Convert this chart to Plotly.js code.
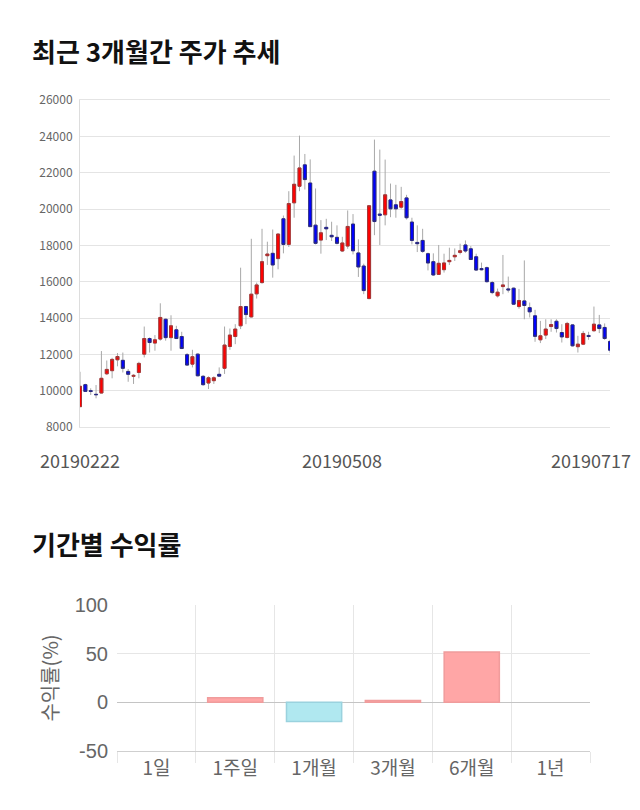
<!DOCTYPE html>
<html>
<head>
<meta charset="utf-8">
<script src="https://cdn.plot.ly/plotly-3.0.1.min.js"></script>
<style>
  html, body { margin: 0; padding: 0; background: #ffffff; }
  #chart { width: 640px; height: 810px; }
</style>
</head>
<body>
<div id="chart"></div>
<script>
// ---- Daily prices (trading days 2019-02-22 .. 2019-07-17) ----
const dates = [
  '20190222','20190225','20190226','20190227','20190228',
  '20190304','20190305','20190306','20190307','20190308',
  '20190311','20190312','20190313','20190314','20190315',
  '20190318','20190319','20190320','20190321','20190322',
  '20190325','20190326','20190327','20190328','20190329',
  '20190401','20190402','20190403','20190404','20190405',
  '20190408','20190409','20190410','20190411','20190412',
  '20190415','20190416','20190417','20190418','20190419',
  '20190422','20190423','20190424','20190425','20190426',
  '20190429','20190430',
  '20190502','20190503','20190507','20190508','20190509','20190510',
  '20190513','20190514','20190515','20190516','20190517',
  '20190520','20190521','20190522','20190523','20190524',
  '20190527','20190528','20190529','20190530','20190531',
  '20190603','20190604','20190605','20190607',
  '20190610','20190611','20190612','20190613','20190614',
  '20190617','20190618','20190619','20190620','20190621',
  '20190624','20190625','20190626','20190627','20190628',
  '20190701','20190702','20190703','20190704','20190705',
  '20190708','20190709','20190710','20190711','20190712',
  '20190715','20190716','20190717'
];
const openP = [
  9120,10330,10000,9800,9870,10930,11100,11700,11670,11060,
  10790,11000,12010,12870,12620,12840,13930,12920,13350,12980,
  11980,11460,12010,10790,10420,10550,10900,11230,12430,12980,
  13570,14630,14060,15330,15950,17430,17560,17270,19460,18050,
  20340,21250,22430,21430,19110,18290,18990,18550,18440,17690,
  17960,19170,17580,16860,15070,22080,19720,19680,20500,20230,
  20100,20610,19280,18160,18270,17540,17100,16400,16660,17100,
  17370,17610,18020,17810,17370,16720,16770,15950,15220,15730,
  15600,15640,14630,14940,14570,14120,12800,13060,13530,13820,
  13200,12930,13620,12420,12560,13040,13300,13620,13480,12710
];
const highP = [
  11040,10380,10130,10310,12180,11660,11810,12070,12100,11190,
  10910,11590,13530,12930,13060,14810,13970,14150,13570,13240,
  12070,12250,12050,10860,10790,10790,11280,13530,13420,13660,
  16770,14670,18360,15950,18910,18200,18870,18660,19640,20980,
  22940,24040,23030,22730,21130,19390,19460,19300,19100,18470,
  19920,19720,18330,16990,20210,23820,23270,22720,21400,21330,
  21220,20780,19520,19100,18910,17600,17560,18020,17540,17870,
  17830,18090,18270,17960,17540,17050,16830,16040,15620,17470,
  16280,15680,15600,17170,14850,14450,13840,13930,13930,13930,
  13660,13790,13660,13020,13290,13240,14630,14170,13700,12800
];
const lowP = [
  9100,9950,9760,9580,9850,10860,10680,11340,11000,10490,
  10370,10680,11830,12100,12200,12750,12750,12200,12840,12290,
  11370,11280,10790,10270,10090,10370,10790,10920,12250,12560,
  13390,13660,14030,15070,15890,16920,16220,16680,17560,17910,
  19520,20980,21070,19030,18050,17540,18290,18240,18050,17630,
  17810,17500,16260,15310,15030,18560,18020,19100,19550,19520,
  20010,19420,18050,17630,17590,16620,16310,16370,16500,16920,
  17140,17500,17590,17190,16590,16620,15950,15310,15130,15310,
  15400,14720,14510,13930,14030,12690,12620,12840,13240,13200,
  12650,12870,12430,12100,12510,12800,13240,13170,12800,12090
];
const closeP = [
  10240,9960,9960,9780,10680,11170,11720,11880,11230,10900,
  10840,11500,12870,12650,12800,14030,12920,13570,12870,12320,
  11410,11870,10820,10330,10710,10710,10800,12510,13060,13390,
  14630,14190,15310,15820,17100,17520,16920,18620,18050,20300,
  21360,22260,21620,19030,18110,18690,18910,18470,18110,18130,
  19040,17700,16810,15510,20180,19310,19660,20780,20010,20010,
  20410,19520,18270,18090,17670,17030,16370,17010,17030,17170,
  17450,17700,17690,17220,16640,16660,16000,15400,15420,15820,
  15550,14760,14960,14690,14340,12990,13020,13390,13640,13420,
  12960,13700,12470,12560,13150,12980,13660,13420,12870,12230
];
const priceTickLabels = ['20190222', '20190508', '20190717'];

// ---- Period returns (%) ----
const periods = ['1일', '1주일', '1개월', '3개월', '6개월', '1년'];
const returns = [null, 4.8, -19.8, 2.0, 51.8, null];
const returnTickVals = [-50, 0, 50, 100];
const returnTickText = ['-50', '0', '50', '100'];

// ---- Derived body-only series (coloured bodies drawn over gray wicks) ----
const bodyHigh = openP.map((o, i) => Math.max(o, closeP[i]));
const bodyLow = openP.map((o, i) => Math.min(o, closeP[i]));

const FONT = '"Noto Sans CJK KR", "Noto Sans", sans-serif';

const wickTrace = {
  type: 'candlestick',
  x: dates, open: openP, high: highP, low: lowP, close: closeP,
  xaxis: 'x', yaxis: 'y',
  increasing: { line: { color: '#a8a8a8', width: 1 }, fillcolor: 'rgba(0,0,0,0)' },
  decreasing: { line: { color: '#a8a8a8', width: 1 }, fillcolor: 'rgba(0,0,0,0)' },
  whiskerwidth: 0,
  hoverinfo: 'skip',
  showlegend: false
};
const bodyTrace = {
  type: 'candlestick',
  x: dates, open: openP, high: bodyHigh, low: bodyLow, close: closeP,
  xaxis: 'x', yaxis: 'y',
  increasing: { line: { color: '#a83434', width: 1 }, fillcolor: '#ff0000' },
  decreasing: { line: { color: '#2a2a80', width: 1 }, fillcolor: '#0000ff' },
  whiskerwidth: 0,
  hoverinfo: 'skip',
  showlegend: false
};
const barTrace = {
  type: 'bar',
  x: periods, y: returns,
  xaxis: 'x2', yaxis: 'y2',
  width: 0.7,
  marker: {
    color: returns.map(v => (v !== null && v < 0) ? '#b0e8f0' : '#ffa6a6'),
    line: { color: returns.map(v => (v !== null && v < 0) ? '#9ad2de' : '#f09c9c'), width: 1.5 }
  },
  hoverinfo: 'skip',
  showlegend: false
};

const lastTick = priceTickLabels.length - 1;
const tickAnn = priceTickLabels.map((d, i) => ({
  xref: 'x', yref: 'paper', x: dates.indexOf(d), y: 1 - 460 / 810,
  text: d, showarrow: false,
  xanchor: i === lastTick ? 'right' : 'center',
  xshift: i === lastTick ? 23 : (i === 1 ? -6 : 0),
  yanchor: 'middle',
  font: { family: FONT, size: 18, color: '#555555' }
}));

const layout = {
  width: 640, height: 810,
  margin: { l: 0, r: 0, t: 0, b: 0 },
  paper_bgcolor: '#ffffff', plot_bgcolor: '#ffffff',
  font: { family: FONT, color: '#666666' },
  boxgap: 0.2,
  showlegend: false,
  xaxis: {
    domain: [80 / 640, 610 / 640], anchor: 'y',
    type: 'category', range: [0, dates.length - 1],
    showgrid: false, zeroline: false, showticklabels: false, ticks: '',
    showline: true, mirror: true, linecolor: '#e4e4e4', linewidth: 1,
    rangeslider: { visible: false }, fixedrange: true
  },
  yaxis: {
    domain: [1 - 427 / 810, 1 - 100 / 810], anchor: 'x',
    range: [8000, 26000], dtick: 2000, tick0: 8000, tickformat: 'd',
    showgrid: true, gridcolor: '#e4e4e4', gridwidth: 1,
    zeroline: false, showline: true, linecolor: '#dddddd', linewidth: 1,
    ticks: '', ticklabelstandoff: 4,
    tickfont: { family: FONT, size: 12, color: '#666666' },
    fixedrange: true
  },
  xaxis2: {
    domain: [117 / 640, 590 / 640], anchor: 'y2',
    type: 'category', tickson: 'boundaries',
    showgrid: true, gridcolor: '#e6e6e6', gridwidth: 1,
    ticks: 'outside', ticklen: 11, tickcolor: '#e6e6e6', tickwidth: 1,
    showline: true, linecolor: '#cfcfcf', linewidth: 1,
    zeroline: false,
    tickfont: { family: FONT, size: 19, color: '#666666' },
    fixedrange: true
  },
  yaxis2: {
    domain: [1 - 751 / 810, 1 - 605 / 810], anchor: 'x2',
    range: [-50, 100],
    tickmode: 'array', tickvals: returnTickVals, ticktext: returnTickText,
    showgrid: true, gridcolor: '#e6e6e6', gridwidth: 1,
    zeroline: true, zerolinecolor: '#c4c4c4', zerolinewidth: 1,
    ticks: '', ticklabelstandoff: 8,
    tickfont: { family: '"Liberation Sans", Arial, sans-serif', size: 20, color: '#666666' },
    title: { text: '수익률(%)', font: { family: FONT, size: 20, color: '#666666' }, standoff: 10 },
    fixedrange: true
  },
  annotations: [
    {
      xref: 'paper', yref: 'paper', x: 30 / 640, y: 1 - 50 / 810,
      xanchor: 'left', yanchor: 'middle', showarrow: false,
      text: '<b>최근 3개월간 주가 추세</b>',
      font: { family: FONT, size: 26, color: '#111111' }
    },
    {
      xref: 'paper', yref: 'paper', x: 30 / 640, y: 1 - 543 / 810,
      xanchor: 'left', yanchor: 'middle', showarrow: false,
      text: '<b>기간별 수익률</b>',
      font: { family: FONT, size: 26, color: '#111111' }
    }
  ].concat(tickAnn)
};

Plotly.newPlot('chart', [wickTrace, bodyTrace, barTrace], layout, { staticPlot: true, displayModeBar: false });
</script>
</body>
</html>
